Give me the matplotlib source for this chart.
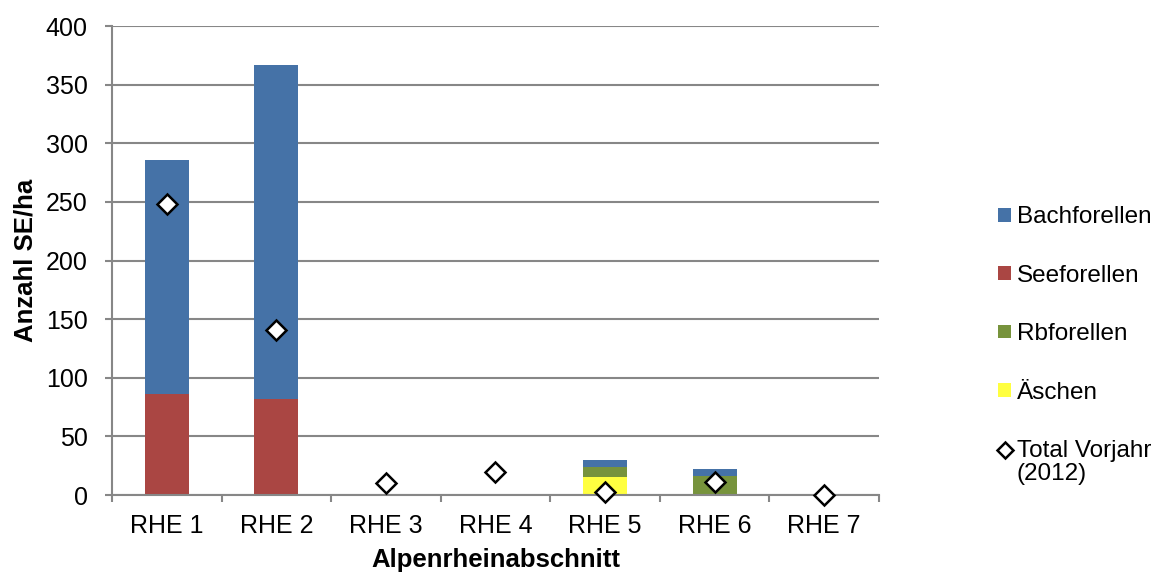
import matplotlib.pyplot as plt
import numpy as np
from matplotlib.legend_handler import HandlerLine2D

plt.rcParams['font.family'] = ['Liberation Sans', 'DejaVu Sans']

# Data
categories = ["RHE 1", "RHE 2", "RHE 3", "RHE 4", "RHE 5", "RHE 6", "RHE 7"]
aeschen = [0, 0, 0, 0, 15, 0, 0]
rbforellen = [0, 0, 0, 0, 9, 16, 0]
seeforellen = [86, 82, 0, 0, 0, 0, 0]
bachforellen = [200, 285, 0, 0, 6, 6, 0]
total_vorjahr = [248, 141, 10, 20, 2.5, 11, 0]


# legend marker aligned with the first line of a two-line label
class HandlerTop(HandlerLine2D):
    def create_artists(self, legend, orig_handle, xdescent, ydescent,
                       width, height, fontsize, trans):
        arts = super().create_artists(legend, orig_handle, xdescent, ydescent,
                                      width, height, fontsize, trans)
        for a in arts:
            a.set_ydata(np.asarray(a.get_ydata()) + 0.55 * fontsize)
        return arts


fig = plt.figure(figsize=(11.59, 5.76), dpi=100)
ax = fig.add_axes([0.0966, 0.1406, 0.6618, 0.8142])

x = np.arange(len(categories))
w = 0.4
grey = "#878787"

# stacked bars, bottom to top
b1 = ax.bar(x, aeschen, w, color="#FFFF40", label="Äschen", zorder=2)
bottom = np.array(aeschen, dtype=float)
b2 = ax.bar(x, rbforellen, w, bottom=bottom, color="#77933C", label="Rbforellen", zorder=2)
bottom += rbforellen
b3 = ax.bar(x, seeforellen, w, bottom=bottom, color="#AA4643", label="Seeforellen", zorder=2)
bottom += seeforellen
b4 = ax.bar(x, bachforellen, w, bottom=bottom, color="#4572A7", label="Bachforellen", zorder=2)

pts, = ax.plot(x, total_vorjahr, linestyle="none", marker="D", markersize=10.5,
               markerfacecolor="white", markeredgecolor="black", markeredgewidth=1.8,
               label="Total Vorjahr\n(2012)", zorder=4, clip_on=False)

ax.set_xlim(-0.5, len(categories) - 0.5)
ax.set_ylim(0, 400)
ax.set_yticks(range(0, 401, 50))
ax.set_xticks(x)
ax.set_xticklabels(categories)
ax.set_xticks(np.arange(-0.5, len(categories), 1), minor=True)
ax.tick_params(axis="x", which="major", length=0, labelsize=18, pad=14)
ax.tick_params(axis="x", which="minor", length=5, color=grey, width=1.5)
ax.tick_params(axis="y", length=5, color=grey, width=1.5, labelsize=18, pad=12.5)

ax.grid(axis="y", color=grey, linewidth=1.5, zorder=0)
for s in ["top", "right"]:
    ax.spines[s].set_visible(False)
for s in ["left", "bottom"]:
    ax.spines[s].set_color(grey)
    ax.spines[s].set_linewidth(1.5)

ax.set_xlabel("Alpenrheinabschnitt", fontsize=18.5, fontweight="bold", labelpad=7)
ax.set_ylabel("Anzahl SE/ha", fontsize=18.5, fontweight="bold", labelpad=6)

handles = [b4, b3, b2, b1, pts]
labels = ["Bachforellen", "Seeforellen", "Rbforellen", "Äschen", "Total Vorjahr\n(2012)"]
leg = fig.legend(handles, labels, loc="upper left", bbox_to_anchor=(0.851, 0.663),
                 frameon=False, fontsize=17.5, labelspacing=1.5, handlelength=0.5,
                 handleheight=0.5, handletextpad=0.25, markerscale=0.75, borderpad=0,
                 handler_map={pts: HandlerTop()})
for t in leg.get_texts():
    t.set_linespacing(1.05)

fig.savefig("out.png", dpi=100)
